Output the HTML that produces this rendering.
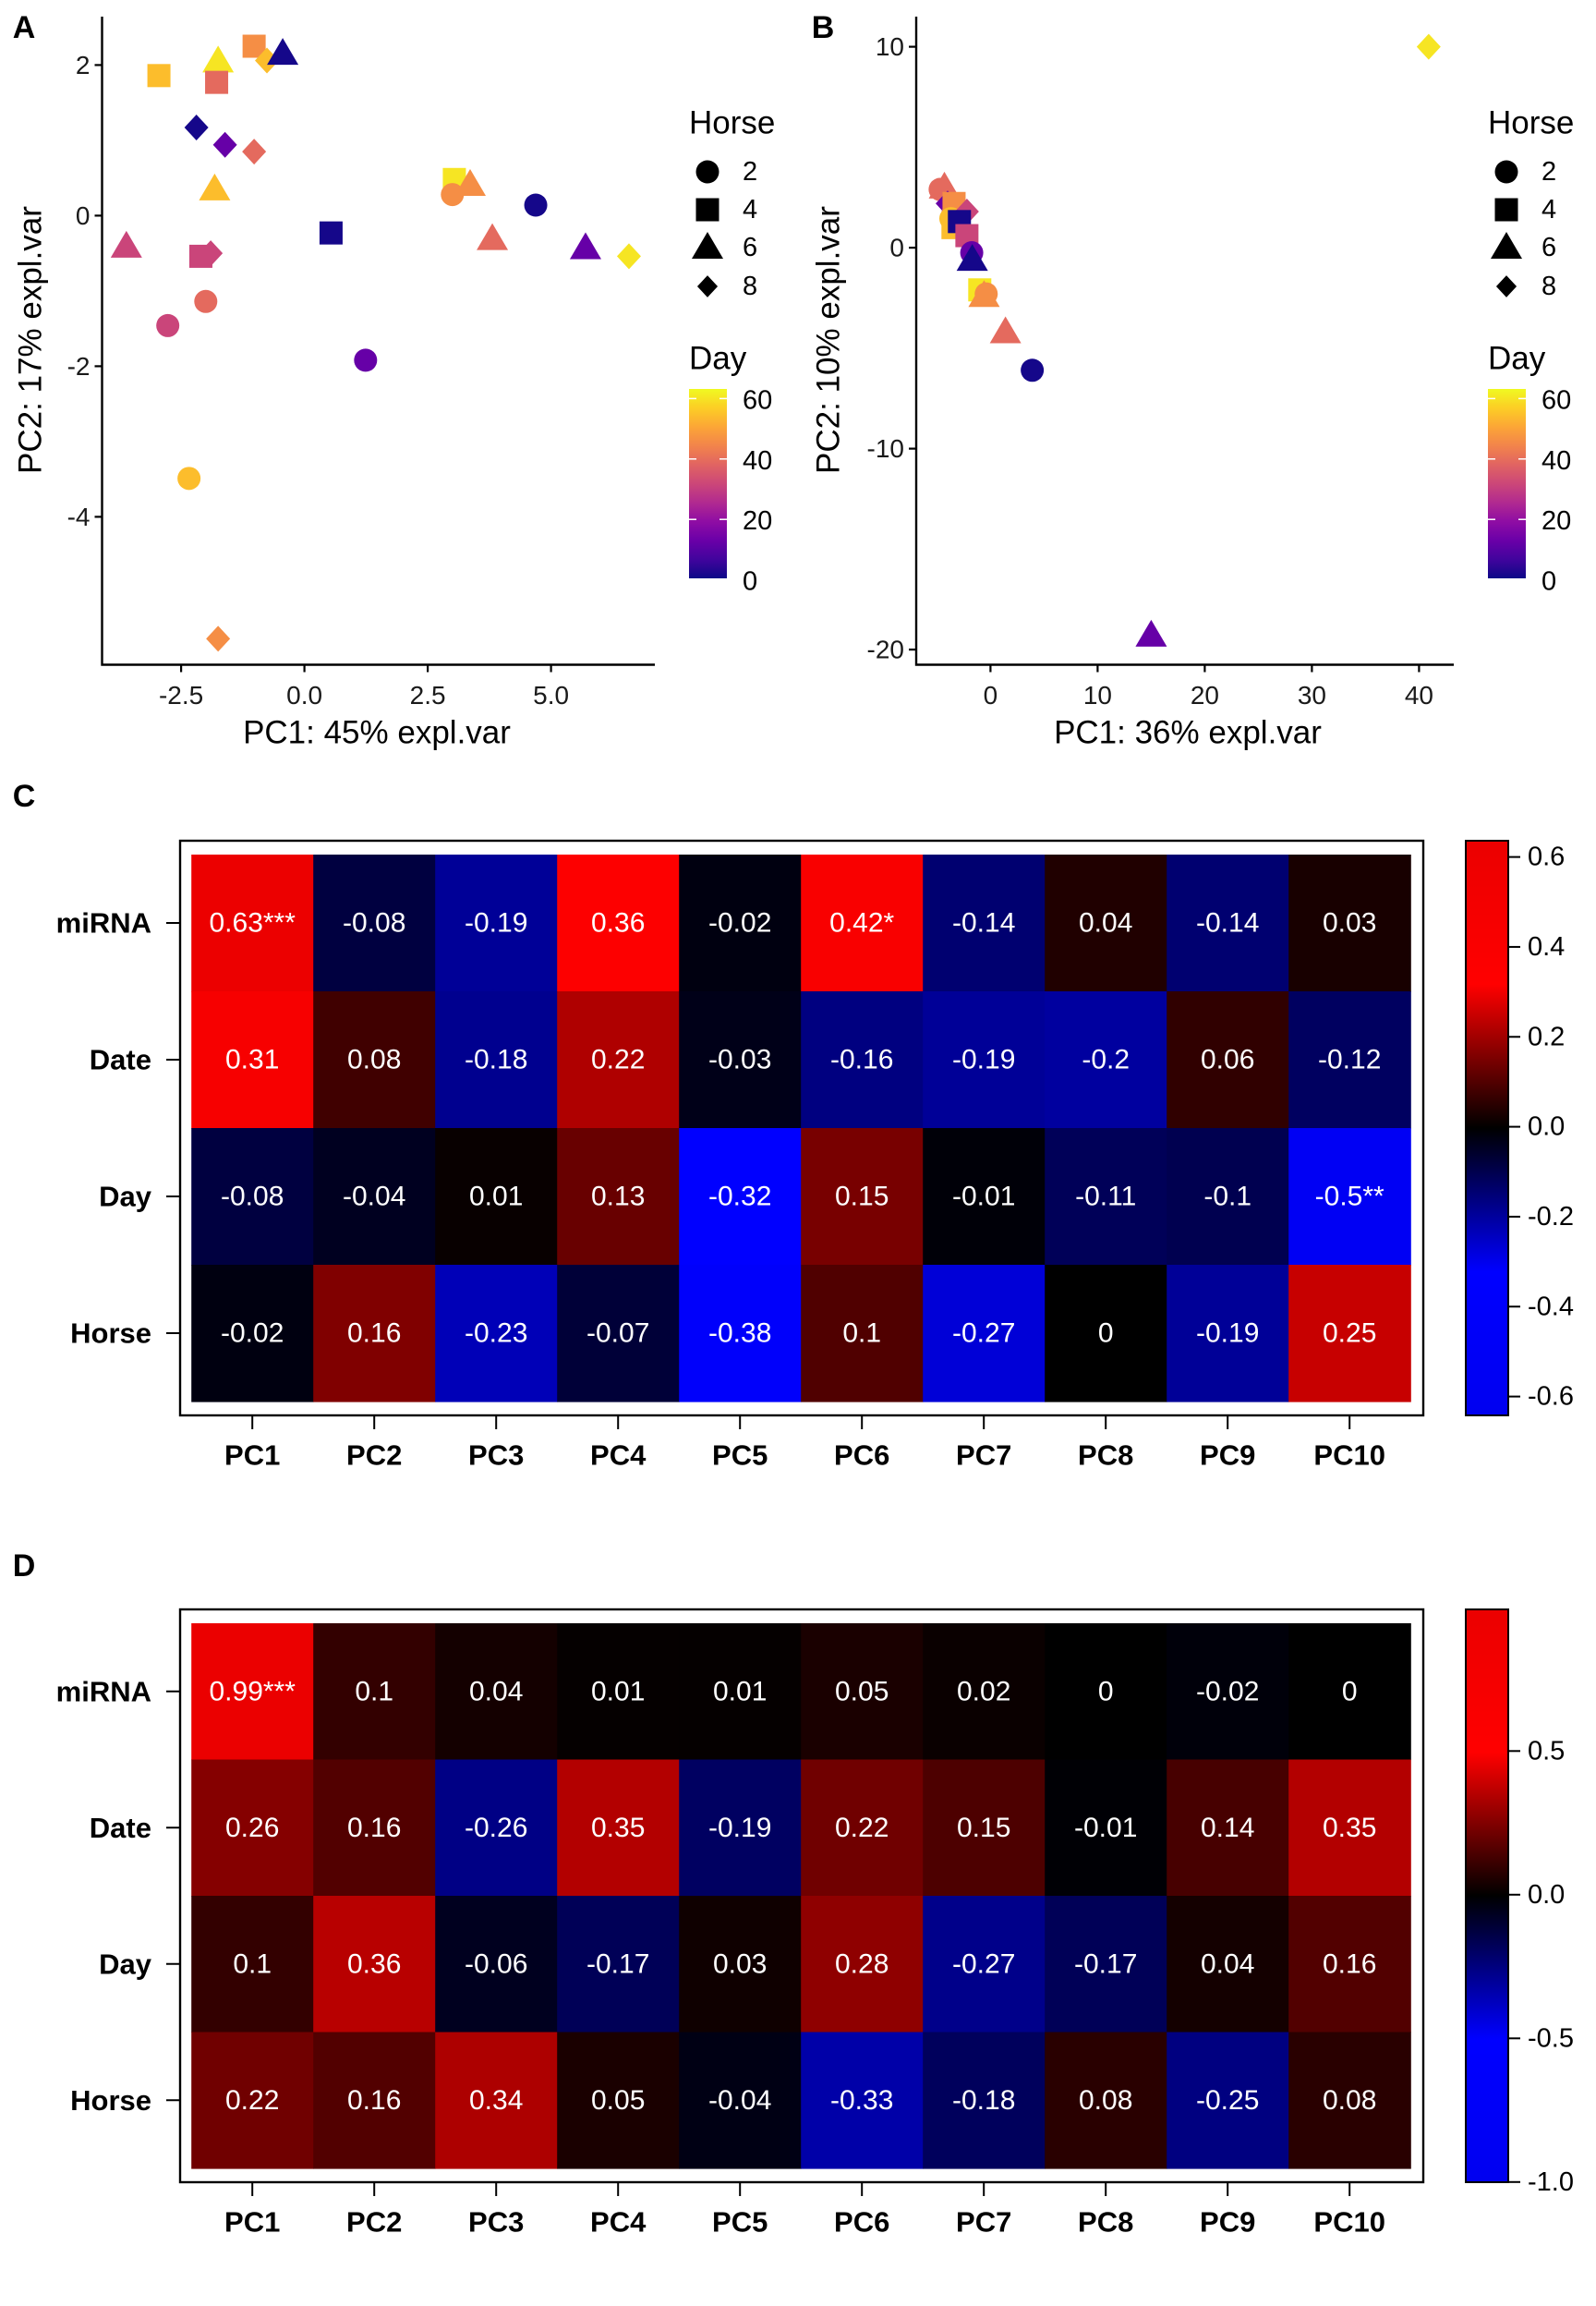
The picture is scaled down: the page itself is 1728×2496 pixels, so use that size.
<!DOCTYPE html>
<html><head><meta charset="utf-8">
<style>
html,body{margin:0;padding:0;background:#fff;}
svg{display:block;font-family:"Liberation Sans",Arial,sans-serif;}
</style></head>
<body>
<svg id="fig" width="1728" height="2496" viewBox="0 0 1728 2496" xmlns="http://www.w3.org/2000/svg">
<defs>
<linearGradient id="plasmaGrad" x1="0" y1="1" x2="0" y2="0">
<stop offset="0" stop-color="#0d0887"/><stop offset="0.1" stop-color="#41049d"/><stop offset="0.2" stop-color="#6a00a8"/><stop offset="0.3" stop-color="#8f0da4"/><stop offset="0.4" stop-color="#b12a90"/><stop offset="0.5" stop-color="#cc4778"/><stop offset="0.6" stop-color="#e16462"/><stop offset="0.7" stop-color="#f2844b"/><stop offset="0.8" stop-color="#fca636"/><stop offset="0.9" stop-color="#fcce25"/><stop offset="1" stop-color="#f0f921"/>
</linearGradient>
<linearGradient id="rbGrad" x1="0" y1="0" x2="0" y2="1">
<stop offset="0" stop-color="#eb0000"/><stop offset="0.25" stop-color="#ff0000"/><stop offset="0.5" stop-color="#000000"/><stop offset="0.75" stop-color="#0000ff"/><stop offset="1" stop-color="#0000f0"/>
</linearGradient>
</defs>
<g id="layer"></g>
</svg>
<script>
// ---------- Data: panel A ----------
const pcaA_pc1 = [-2.95,-1.02,-1.75,-0.76,-0.44,-1.78,-2.19,-1.61,-1.02,-1.82,3.04,3.36,3.0,4.69,0.54,-3.61,-2.10,-1.9,3.81,5.70,6.58,-2.0,-2.77,1.24,-2.34,-1.75];
const pcaA_pc2 = [1.86,2.25,2.05,2.06,2.15,1.77,1.17,0.94,0.85,0.35,0.48,0.41,0.28,0.14,-0.23,-0.41,-0.54,-0.5,-0.31,-0.43,-0.54,-1.14,-1.46,-1.92,-3.49,-5.62];
const pcaA_horse = [4,4,6,8,6,4,8,8,8,6,4,6,2,2,4,6,4,8,6,6,8,2,2,2,2,8];
const pcaA_day = [54,46,60,54,1,39,1,12,39,54,60,46,46,1,1,31,31,31,39,12,60,39,31,12,54,46];
// ---------- Data: panel B ----------
const pcaB_pc1 = [-4.3,-4.7,-4.0,-3.5,-3.4,-3.7,-3.5,-2.2,-2.9,-2.2,-1.75,-1.7,-1.0,-0.6,-0.4,1.4,3.9,15.0,40.9];
const pcaB_pc2 = [3.0,2.9,2.2,1.7,2.2,1.45,1.0,1.8,1.3,0.6,-0.25,-0.6,-2.1,-2.4,-2.3,-4.2,-6.1,-19.3,10.0];
const pcaB_horse = [6,2,8,2,4,2,4,8,4,4,2,6,4,6,2,6,2,6,8];
const pcaB_day = [39,39,12,31,46,54,54,31,1,31,12,1,60,46,46,39,1,12,60];
const horseLevels = [2,4,6,8];
const dayTicks = [0,20,40,60];
const aTicksX = [-2.5,0,2.5,5];
const aTickLabX = ["-2.5","0.0","2.5","5.0"];
const aTicksY = [2,0,-2,-4];
const bTicksX = [0,10,20,30,40];
const bTicksY = [10,0,-10,-20];
// ---------- Data: heatmaps ----------
const hmRows = ["miRNA","Date","Day","Horse"];
const hmCols = ["PC1","PC2","PC3","PC4","PC5","PC6","PC7","PC8","PC9","PC10"];
const hmC_miRNA = [0.63,-0.08,-0.19,0.36,-0.02,0.42,-0.14,0.04,-0.14,0.03];
const hmC_Date  = [0.31,0.08,-0.18,0.22,-0.03,-0.16,-0.19,-0.2,0.06,-0.12];
const hmC_Day   = [-0.08,-0.04,0.01,0.13,-0.32,0.15,-0.01,-0.11,-0.1,-0.5];
const hmC_Horse = [-0.02,0.16,-0.23,-0.07,-0.38,0.1,-0.27,0,-0.19,0.25];
const hmC_stars = [["***","","","","","*","","","",""],["","","","","","","","","",""],["","","","","","","","","","**"],["","","","","","","","","",""]];
const hmD_miRNA = [0.99,0.1,0.04,0.01,0.01,0.05,0.02,0,-0.02,0];
const hmD_Date  = [0.26,0.16,-0.26,0.35,-0.19,0.22,0.15,-0.01,0.14,0.35];
const hmD_Day   = [0.1,0.36,-0.06,-0.17,0.03,0.28,-0.27,-0.17,0.04,0.16];
const hmD_Horse = [0.22,0.16,0.34,0.05,-0.04,-0.33,-0.18,0.08,-0.25,0.08];
const hmD_stars = [["***","","","","","","","","",""],["","","","","","","","","",""],["","","","","","","","","",""],["","","","","","","","","",""]];
const cbC_ticks = [0.6,0.4,0.2,0,-0.2,-0.4,-0.6];
const cbC_labels = ["0.6","0.4","0.2","0.0","-0.2","-0.4","-0.6"];
const cbD_ticks = [0.5,0,-0.5,-1];
const cbD_labels = ["0.5","0.0","-0.5","-1.0"];

const NS="http://www.w3.org/2000/svg";
const layer=document.getElementById('layer');
function mk(tag,attrs,parent){const e=document.createElementNS(NS,tag);for(const k in attrs)e.setAttribute(k,attrs[k]);(parent||layer).appendChild(e);return e;}
function txt(s,x,y,size,opts,parent){const o=Object.assign({x:x,y:y,'font-size':size,fill:'#000','dominant-baseline':'central'},opts||{});const t=mk('text',o,parent);t.textContent=s;return t;}

const plasma=["#0d0887","#41049d","#6a00a8","#8f0da4","#b12a90","#cc4778","#e16462","#f2844b","#fca636","#fcce25","#f0f921"];
function hex2rgb(h){return [1,3,5].map(i=>parseInt(h.substr(i,2),16));}
function plasmaColor(day){let t=Math.max(0,Math.min(1,day/63));const p=t*10;const i=Math.min(9,Math.floor(p));const f=p-i;const a=hex2rgb(plasma[i]),b=hex2rgb(plasma[i+1]);return 'rgb('+a.map((v,k)=>Math.round(v+(b[k]-v)*f)).join(',')+')';}

function drawShape(g,horse,cx,cy,color,s){
  s=s||1;let e;
  if(horse===2){e=mk('circle',{cx:cx,cy:cy,r:12.5*s,fill:color},g);}
  else if(horse===4){e=mk('rect',{x:cx-12.5*s,y:cy-12.5*s,width:25*s,height:25*s,fill:color},g);}
  else if(horse===6){e=mk('polygon',{points:`${cx},${cy-17*s} ${cx-17*s},${cy+12*s} ${cx+17*s},${cy+12*s}`,fill:color},g);}
  else {e=mk('polygon',{points:`${cx},${cy-14*s} ${cx+13*s},${cy} ${cx},${cy+14*s} ${cx-13*s},${cy}`,fill:color},g);}
  return e;
}

function scatterPanel(cfg){
  const g=mk('g',{});
  
  
  const xs=v=>cfg.x0+v*cfg.xk, ys=v=>cfg.y0-v*cfg.yk;
  const ax=mk('path',{d:`M${cfg.left},${cfg.top} L${cfg.left},${cfg.bottom} L${cfg.right},${cfg.bottom}`,fill:'none',stroke:'#000','stroke-width':2.4},g);
  
  
  cfg.tx.forEach((v,i)=>{
    mk('line',{x1:xs(v),x2:xs(v),y1:cfg.bottom,y2:cfg.bottom+8,stroke:'#000','stroke-width':2.2},g);
    const t=txt(cfg.txl[i],xs(v),cfg.bottom+33,28,{'text-anchor':'middle',fill:'#1a1a1a'},g);
    
    
  });
  cfg.ty.forEach(v=>{
    mk('line',{x1:cfg.left-8,x2:cfg.left,y1:ys(v),y2:ys(v),stroke:'#000','stroke-width':2.2},g);
    const t=txt(String(v),cfg.left-13,ys(v),28,{'text-anchor':'end',fill:'#1a1a1a'},g);
    
    
  });
  const xt=txt(cfg.xtitle,cfg.xtx,793,35,{'text-anchor':'middle'},g);
  
  
  const yt=txt(cfg.ytitle,0,0,35,{'text-anchor':'middle',transform:`translate(${cfg.ytx},368) rotate(-90)`},g);
  
  
  const pl=txt(cfg.label,cfg.labx,30,34,{'font-weight':'bold','text-anchor':'middle'},g);
  
  
  for(let i=0;i<cfg.px.length;i++){
    const e=drawShape(g,cfg.ph[i],xs(cfg.px[i]),ys(cfg.py[i]),plasmaColor(cfg.pd[i]));
    
    
  }
  const L=cfg.leg;
  const ht=txt('Horse',L,133,35,{},g);
  
  
  const rowsY=[186,227,268,310];
  horseLevels.forEach((h,i)=>{
    const e=drawShape(g,h,L+20,rowsY[i],'#000',h===8?0.85:1);
    
    
    const t=txt(String(h),L+58,rowsY[i],29,{},g);
    
    
  });
  const dt=txt('Day',L,388,35,{},g);
  
  
  const cb=mk('rect',{x:L,y:421,width:41,height:205,fill:'url(#plasmaGrad)'},g);
  
  
  const dy=d=>627.6-d*3.27;
  dayTicks.forEach(d=>{
    if(d>0){mk('line',{x1:L,x2:L+8,y1:dy(d),y2:dy(d),stroke:'#fff','stroke-width':1.5},g);
            mk('line',{x1:L+33,x2:L+41,y1:dy(d),y2:dy(d),stroke:'#fff','stroke-width':1.5},g);}
    const t=txt(String(d),L+58,dy(d)+2,29,{},g);
    
    
  });
}

scatterPanel({name:'pca-panel-a',label:'A',labx:26,left:110.5,right:709,top:18,bottom:719.5,
  x0:329.6,xk:53.4,y0:233.4,yk:81.5,tx:aTicksX,txl:aTickLabX,ty:aTicksY,
  xtitle:'PC1: 45% expl.var',xtx:408,ytitle:'PC2: 17% expl.var',ytx:33,
  px:pcaA_pc1,py:pcaA_pc2,ph:pcaA_horse,pd:pcaA_day,leg:746});
scatterPanel({name:'pca-panel-b',label:'B',labx:891,left:992,right:1574,top:18,bottom:719.5,
  x0:1072.4,xk:11.6,y0:268.1,yk:21.75,tx:bTicksX,txl:bTicksX.map(String),ty:bTicksY,
  xtitle:'PC1: 36% expl.var',xtx:1286,ytitle:'PC2: 10% expl.var',ytx:897,
  px:pcaB_pc1,py:pcaB_pc2,ph:pcaB_horse,pd:pcaB_day,leg:1611});

function rbColor(v,max){
  const t=v/max;const a=Math.abs(t);
  let I=a<=0.5?a/0.5*255:255-(a-0.5)/0.5*20;I=Math.round(Math.max(0,Math.min(255,I)));
  return t>=0?`rgb(${I},0,0)`:`rgb(0,0,${I})`;
}

function heatmap(cfg){
  const g=mk('g',{});
  
  
  const oy=cfg.oy;
  const box=mk('rect',{x:195,y:oy,width:1346,height:cfg.boxH,fill:'none',stroke:'#000','stroke-width':2.4},g);
  
  
  const cx0=207.2,cw=132,cy0=oy+15,ch=(cfg.boxH-30)/4;
  cfg.rows.forEach((row,r)=>{
    row.forEach((v,c)=>{
      const rc=mk('rect',{x:cx0+c*cw,y:cy0+r*ch,width:cw+0.6,height:ch+0.6,fill:rbColor(v,cfg.max)},g);
      
      
      const t=txt(String(v)+cfg.stars[r][c],cx0+c*cw+cw/2,cy0+r*ch+ch/2,30,{'text-anchor':'middle',fill:'#fff'},g);
      
      
    });
    const yy=cy0+r*ch+ch/2;
    mk('line',{x1:180,x2:195,y1:yy,y2:yy,stroke:'#000','stroke-width':2},g);
    const t=txt(hmRows[r],164,yy,31,{'text-anchor':'end','font-weight':'bold'},g);
    
    
  });
  hmCols.forEach((c,i)=>{
    const xx=cx0+i*cw+cw/2;const by=oy+cfg.boxH;
    mk('line',{x1:xx,x2:xx,y1:by,y2:by+15,stroke:'#000','stroke-width':2},g);
    const t=txt(c,xx,by+43,31,{'text-anchor':'middle','font-weight':'bold'},g);
    
    
  });
  const cb=mk('rect',{x:1587,y:oy,width:46,height:cfg.boxH,fill:'url(#rbGrad)',stroke:'#000','stroke-width':2},g);
  
  
  const cy=v=>cfg.cbZero-v*cfg.cbK;
  cfg.ticks.forEach((v,i)=>{
    mk('line',{x1:1633,x2:1646,y1:cy(v),y2:cy(v),stroke:'#000','stroke-width':2},g);
    const t=txt(cfg.tickLabels[i],1654,cy(v),29,{},g);
    
    
  });
  const pl=txt(cfg.label,26,cfg.laby,34,{'font-weight':'bold','text-anchor':'middle'},g);
  
  
}
heatmap({name:'heatmap-c',label:'C',laby:862,oy:910,boxH:622,max:0.64,
  rows:[hmC_miRNA,hmC_Date,hmC_Day,hmC_Horse],stars:hmC_stars,
  ticks:cbC_ticks,tickLabels:cbC_labels,cbZero:1219.6,cbK:292/0.6});
heatmap({name:'heatmap-d',label:'D',laby:1695,oy:1742,boxH:620,max:1.0,
  rows:[hmD_miRNA,hmD_Date,hmD_Day,hmD_Horse],stars:hmD_stars,
  ticks:cbD_ticks,tickLabels:cbD_labels,cbZero:2050.8,cbK:311});
</script>
</body></html>
